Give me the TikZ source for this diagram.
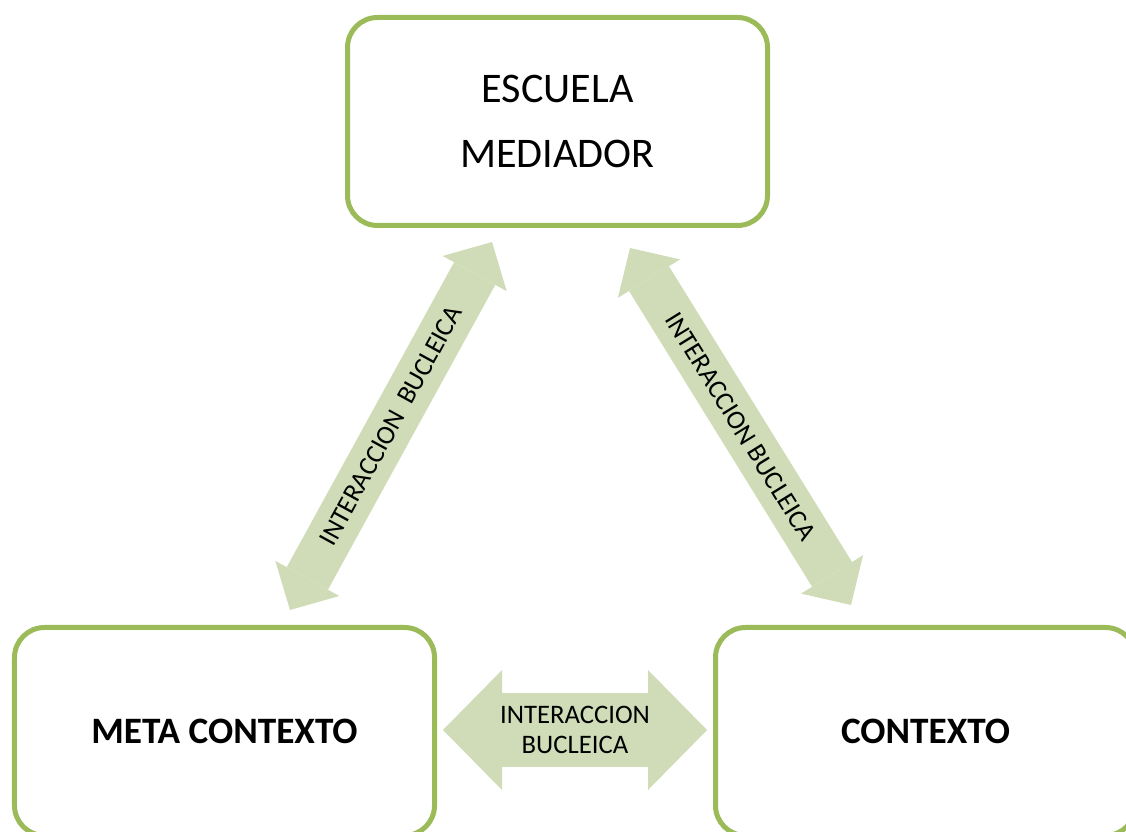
\documentclass[tikz,border=0pt]{standalone}
\usepackage{fontspec}
\setmainfont{Carlito}
\usetikzlibrary{arrows.meta}

\definecolor{boxgreen}{HTML}{9BBB59}
\definecolor{arrowgreen}{HTML}{CFDCB7}

\tikzset{
  ctxbox/.style={draw=boxgreen, line width=0.05cm, rounded corners=0.3cm,
    minimum width=4.2cm, minimum height=2.08cm, align=center},
  fatarrow/.style={draw=arrowgreen, line width=#1,
    {Triangle[width=0.73cm,length=0.36cm,line width=0pt]}-{Triangle[width=0.73cm,length=0.36cm,line width=0pt]}},
  widearrow/.style={draw=arrowgreen, line width=0.74cm,
    {Triangle[width=1.2cm,length=0.59cm,line width=0pt]}-{Triangle[width=1.2cm,length=0.59cm,line width=0pt]}},
  arrowtext/.style={font=\fontsize{7.6}{8.5}\selectfont}
}

\begin{document}
\begin{tikzpicture}

\useasboundingbox (0,0) rectangle (11.26,-8.32);

% Draw the boxes
\node[ctxbox, font=\fontsize{12}{18.5}\selectfont] (escuela) at (5.575,-1.215) {ESCUELA\\MEDIADOR};
\node[ctxbox, font=\fontsize{10.6}{12}\selectfont\bfseries] (meta) at (2.245,-7.315) {META CONTEXTO};
\node[ctxbox, font=\fontsize{10.6}{12}\selectfont\bfseries] (contexto) at (9.255,-7.315) {CONTEXTO};

% Arrow ends
\coordinate (metaup) at (2.90,-6.10);
\coordinate (escleft) at (4.92,-2.42);
\coordinate (escright) at (6.30,-2.48);
\coordinate (ctxup) at (8.51,-6.05);
\coordinate (metaright) at (4.43,-7.30);
\coordinate (ctxleft) at (7.07,-7.30);

% Draw the arrows
\draw[fatarrow=0.47cm] (metaup) -- node[midway, sloped, arrowtext] {INTERACCION\ \ BUCLEICA} (escleft);
\draw[fatarrow=0.47cm] (escright) -- node[midway, sloped, arrowtext] {INTERACCION BUCLEICA} (ctxup);
\draw[widearrow] (metaright) -- node[midway, align=center, arrowtext] {INTERACCION\\BUCLEICA} (ctxleft);

\end{tikzpicture}
\end{document}
